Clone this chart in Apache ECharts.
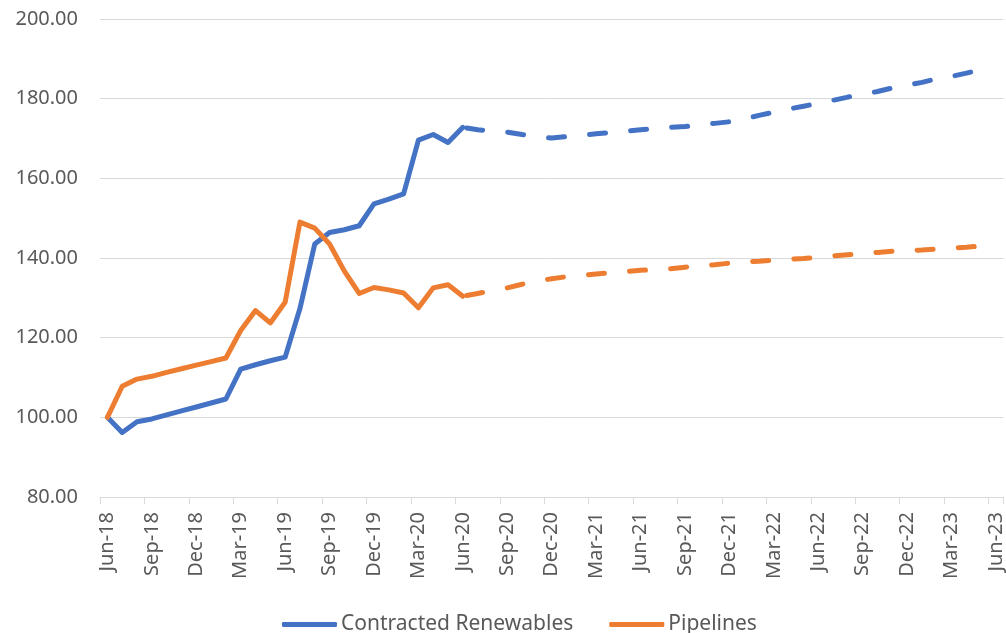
<!DOCTYPE html>
<html>
<head>
<meta charset="utf-8">
<title>Contracted Renewables vs Pipelines</title>
<script src="https://cdn.jsdelivr.net/npm/echarts@6/dist/echarts.min.js"></script>
<style>
  html, body { margin: 0; padding: 0; background: #ffffff; }
  #chart { width: 1006px; height: 633px; }
</style>
</head>
<body>
<div id="chart"></div>
<script>
// Monthly index, Jun-18 = 100. Actuals to Jun-20, projections after.
const months = [
  'Jun-18','Jul-18','Aug-18','Sep-18','Oct-18','Nov-18','Dec-18',
  'Jan-19','Feb-19','Mar-19','Apr-19','May-19','Jun-19','Jul-19','Aug-19','Sep-19','Oct-19','Nov-19','Dec-19',
  'Jan-20','Feb-20','Mar-20','Apr-20','May-20','Jun-20','Jul-20','Aug-20','Sep-20','Oct-20','Nov-20','Dec-20',
  'Jan-21','Feb-21','Mar-21','Apr-21','May-21','Jun-21','Jul-21','Aug-21','Sep-21','Oct-21','Nov-21','Dec-21',
  'Jan-22','Feb-22','Mar-22','Apr-22','May-22','Jun-22','Jul-22','Aug-22','Sep-22','Oct-22','Nov-22','Dec-22',
  'Jan-23','Feb-23','Mar-23','Apr-23','May-23','Jun-23'
];

// Actuals, Jun-18 .. Jun-20
const renewablesActual = [
  100.0, 96.2, 98.9, 99.6, 100.6, 101.6, 102.6,
  103.6, 104.6, 112.1, 113.2, 114.2, 115.1, 127.3, 143.5, 146.4, 147.1, 148.1, 153.6,
  154.8, 156.1, 169.6, 171.0, 169.0, 172.8
];
const pipelinesActual = [
  100.0, 107.8, 109.6, 110.3, 111.3, 112.2, 113.1,
  114.0, 114.9, 121.8, 126.8, 123.7, 128.9, 149.0, 147.5, 143.5, 136.7, 131.1, 132.6,
  132.0, 131.2, 127.5, 132.5, 133.3, 130.4
];

// Projections, Jun-20 .. May-23
const renewablesForecast = [
  172.8, 172.2, 171.9, 171.6, 171.0, 170.5, 170.1,
  170.5, 170.8, 171.2, 171.5, 171.8, 172.2, 172.5, 172.8, 173.0, 173.4, 173.8, 174.2,
  174.9, 175.8, 176.6, 177.4, 178.1, 178.8, 179.6, 180.4, 181.1, 181.8, 182.7, 183.4,
  184.1, 185.0, 185.6, 186.4, 187.3
];
const pipelinesForecast = [
  130.4, 131.1, 131.8, 132.5, 133.4, 134.2, 134.8,
  135.3, 135.6, 136.0, 136.3, 136.6, 136.9, 137.1, 137.3, 137.7, 138.0, 138.3, 138.7,
  139.0, 139.2, 139.5, 139.7, 139.9, 140.2, 140.5, 140.8, 141.1, 141.4, 141.7, 141.9,
  142.0, 142.3, 142.5, 142.7, 143.0
];

const yTicks = { min: 80, max: 200, step: 20 };
const seriesNames = ['Contracted Renewables', 'Pipelines'];
const colors = ['#4472C4', '#ED7D31'];

const FONT = '"Noto Sans", "Open Sans", sans-serif';
const splitIndex = renewablesActual.length - 1; // projection starts at the last actual month

function padActual(arr) {
  return months.map((m, i) => (i < arr.length ? arr[i] : null));
}
function padForecast(arr) {
  return months.map((m, i) => (i >= splitIndex && i - splitIndex < arr.length ? arr[i - splitIndex] : null));
}

function solid(name, color, data) {
  return {
    name, type: 'line', data, color,
    showSymbol: false, symbol: 'none', smooth: false,
    lineStyle: { width: 5, color, cap: 'round', join: 'round' },
    emphasis: { disabled: true }
  };
}
function dashed(name, color, data) {
  return {
    name, type: 'line', data, color,
    showSymbol: false, symbol: 'none', smooth: false,
    lineStyle: { width: 5, color, cap: 'round', join: 'round', type: [16, 25.2], dashOffset: -4 },
    emphasis: { disabled: true }
  };
}

const chart = echarts.init(document.getElementById('chart'), null, { renderer: 'canvas' });
chart.setOption({
  animation: false,
  backgroundColor: '#ffffff',
  grid: { left: 100, right: 2, top: 19, bottom: 136, containLabel: false },
  legend: {
    data: seriesNames,
    left: 277,
    top: 609,
    icon: 'roundRect',
    itemWidth: 55,
    itemHeight: 5,
    itemGap: 36,
    textStyle: { fontFamily: FONT, fontSize: 21, color: '#595959', padding: [0, 0, 0, -1] }
  },
  xAxis: {
    type: 'category',
    data: months,
    boundaryGap: true,
    axisLine: { show: true, lineStyle: { color: '#d9d9d9', width: 1 } },
    axisTick: { show: true, interval: 2, length: 7, lineStyle: { color: '#d9d9d9', width: 1 } },
    axisLabel: {
      interval: 2, rotate: 90, margin: 15,
      fontFamily: FONT, fontSize: 20, color: '#595959'
    },
    splitLine: { show: false }
  },
  yAxis: {
    type: 'value',
    min: yTicks.min, max: yTicks.max, interval: yTicks.step,
    axisLine: { show: false },
    axisTick: { show: false },
    axisLabel: {
      margin: 22, fontFamily: FONT, fontSize: 20, color: '#595959',
      formatter: v => v.toFixed(2)
    },
    splitLine: { lineStyle: { color: '#d9d9d9', width: 1 } }
  },
  series: [
    solid(seriesNames[0], colors[0], padActual(renewablesActual)),
    solid(seriesNames[1], colors[1], padActual(pipelinesActual)),
    dashed(seriesNames[0], colors[0], padForecast(renewablesForecast)),
    dashed(seriesNames[1], colors[1], padForecast(pipelinesForecast))
  ]
});
</script>
</body>
</html>
